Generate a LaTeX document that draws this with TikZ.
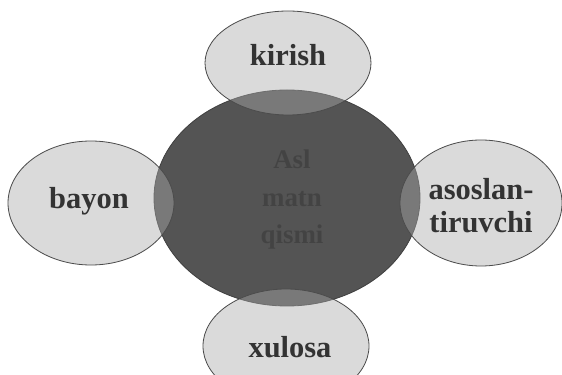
\documentclass[tikz,border=0pt]{standalone}
\usepackage{fontspec}
\setmainfont{Liberation Serif}
\begin{document}
\begin{tikzpicture}[x=0.03cm,y=-0.03cm,
  outer/.style={draw=black!70,line width=0.7pt,fill=black!33,fill opacity=0.43},
  centre/.style={draw=black!75,line width=0.7pt,fill=black!67},
  lbl/.style={text=black!80,font=\bfseries\fontsize{26}{28}\selectfont,align=center,inner sep=0pt},
  clbl/.style={text=black!85,font=\bfseries\fontsize{23}{32}\selectfont,align=center,inner sep=0pt,text opacity=0.35}]
\useasboundingbox (0,0) rectangle (562,375);
\fill[white] (0,0) rectangle (562,375);
\begin{scope}
\clip (0,0) rectangle (562,375);
\draw[centre] (287,198) ellipse [x radius=133,y radius=108];
\draw[outer] (288,63) ellipse [x radius=83,y radius=52];
\draw[outer] (91,203) ellipse [x radius=83,y radius=62];
\draw[outer] (481,203) ellipse [x radius=81,y radius=63];
\draw[outer] (286,346) ellipse [x radius=83,y radius=57];
\end{scope}
\node[clbl] (c) at (292,200) {Asl\\matn\\qismi};
\node[lbl] (k) at (288,55) {kirish};
\node[lbl] (b) at (89,201) {bayon};
\node[lbl] (a) at (481,206) {asoslan-\\tiruvchi};
\node[lbl] (x) at (290,347) {xulosa};
\end{tikzpicture}
\end{document}
